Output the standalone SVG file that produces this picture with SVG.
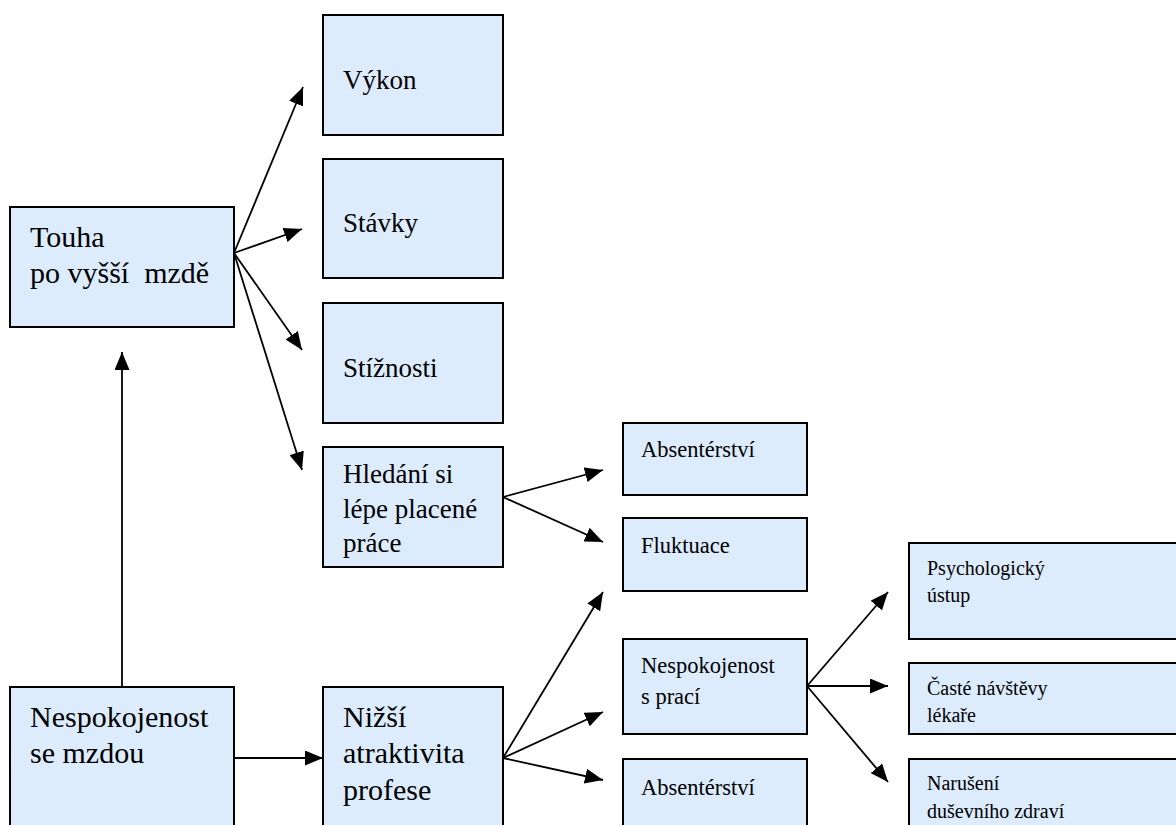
<svg xmlns="http://www.w3.org/2000/svg" width="1176" height="825" viewBox="0 0 1176 825">
  <style>
    .box { fill: #ddecfd; stroke: #000; stroke-width: 2; }
    text { font-family: "Liberation Serif", "DejaVu Serif", serif; fill: #000; white-space: pre; }
    .xl { font-size: 30px; }
    .l { font-size: 27px; }
    .m { font-size: 22.5px; }
    .s { font-size: 20px; }
    .edge { stroke: #000; stroke-width: 1.8; fill: none; marker-end: url(#arrow); }
  </style>
  <defs>
    <marker id="arrow" viewBox="0 0 18 15" refX="18" refY="7.5" markerWidth="18" markerHeight="15" markerUnits="userSpaceOnUse" orient="auto">
      <path d="M0,0 L18,7.5 L0,15 z" fill="#000"/>
    </marker>
  </defs>
  <rect width="1176" height="825" fill="#fff"/>

  <!-- connectors -->
  <g id="connectors">
    <line class="edge" x1="122" y1="687" x2="122" y2="352"/>
    <line class="edge" x1="234" y1="758" x2="323" y2="758"/>
    <line class="edge" x1="234" y1="253" x2="303" y2="87"/>
    <line class="edge" x1="234" y1="253" x2="302" y2="229"/>
    <line class="edge" x1="234" y1="253" x2="302" y2="350"/>
    <line class="edge" x1="234" y1="253" x2="302" y2="470"/>
    <line class="edge" x1="503" y1="497" x2="603" y2="470"/>
    <line class="edge" x1="503" y1="497" x2="603" y2="542"/>
    <line class="edge" x1="503" y1="758" x2="603" y2="592"/>
    <line class="edge" x1="503" y1="758" x2="603" y2="712"/>
    <line class="edge" x1="503" y1="758" x2="603" y2="780"/>
    <line class="edge" x1="807" y1="686" x2="888" y2="592"/>
    <line class="edge" x1="807" y1="686" x2="888" y2="686"/>
    <line class="edge" x1="807" y1="686" x2="888" y2="782"/>
  </g>

  <g id="touha">
    <rect class="box" x="10" y="207" width="224" height="120"/>
    <text class="xl" x="30" y="247">Touha</text>
    <text class="xl" x="30" y="283">po vyšší  mzdě</text>
  </g>
  <g id="vykon">
    <rect class="box" x="323" y="15" width="180" height="120"/>
    <text class="l" x="343" y="89">Výkon</text>
  </g>
  <g id="stavky">
    <rect class="box" x="323" y="159" width="180" height="119"/>
    <text class="l" x="343" y="232">Stávky</text>
  </g>
  <g id="stiznosti">
    <rect class="box" x="323" y="303" width="180" height="120"/>
    <text class="l" x="343" y="377">Stížnosti</text>
  </g>
  <g id="hledani">
    <rect class="box" x="323" y="447" width="180" height="120"/>
    <text class="l" x="343" y="483">Hledání si</text>
    <text class="l" x="343" y="518">lépe placené</text>
    <text class="l" x="343" y="552">práce</text>
  </g>
  <g id="nespokojenost-mzda">
    <rect class="box" x="10" y="687" width="224" height="150"/>
    <text class="xl" x="30" y="727">Nespokojenost</text>
    <text class="xl" x="30" y="763">se mzdou</text>
  </g>
  <g id="nizsi-atraktivita">
    <rect class="box" x="323" y="687" width="180" height="150"/>
    <text class="xl" x="343" y="727">Nižší</text>
    <text class="xl" x="343" y="763">atraktivita</text>
    <text class="xl" x="343" y="800">profese</text>
  </g>
  <g id="absenterstvi-1">
    <rect class="box" x="623" y="423" width="184" height="72"/>
    <text class="m" x="641" y="457">Absentérství</text>
  </g>
  <g id="fluktuace">
    <rect class="box" x="623" y="518" width="184" height="73"/>
    <text class="m" x="641" y="553">Fluktuace</text>
  </g>
  <g id="nespokojenost-prace">
    <rect class="box" x="623" y="639" width="184" height="95"/>
    <text class="m" x="641" y="673">Nespokojenost</text>
    <text class="m" x="641" y="704">s prací</text>
  </g>
  <g id="absenterstvi-2">
    <rect class="box" x="623" y="759" width="184" height="80"/>
    <text class="m" x="641" y="795">Absentérství</text>
  </g>
  <g id="psychologicky-ustup">
    <rect class="box" x="909" y="543" width="280" height="96"/>
    <text class="s" x="927" y="575">Psychologický</text>
    <text class="s" x="927" y="602">ústup</text>
  </g>
  <g id="caste-navstevy">
    <rect class="box" x="909" y="663" width="280" height="71"/>
    <text class="s" x="927" y="695">Časté návštěvy</text>
    <text class="s" x="927" y="722">lékaře</text>
  </g>
  <g id="naruseni-zdravi">
    <rect class="box" x="909" y="759" width="280" height="80"/>
    <text class="s" x="927" y="790">Narušení</text>
    <text class="s" x="927" y="818">duševního zdraví</text>
  </g>
</svg>
